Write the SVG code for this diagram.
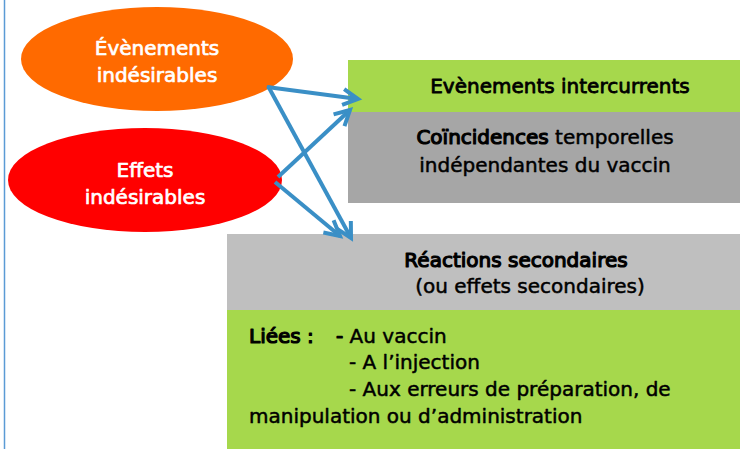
<svg xmlns="http://www.w3.org/2000/svg" width="740" height="449" viewBox="0 0 740 449">
<style>
text{font-family:"DejaVu Sans",sans-serif;font-size:20px;stroke-width:0.5;stroke-linejoin:round}
.w{fill:#ffffff;stroke:#ffffff;stroke-width:0.7}
.k{fill:#000000;stroke:#000000}
.b{stroke-width:1.2}
.c{text-anchor:middle}
.arr{fill:none;stroke:#3a8fc6;stroke-width:4;marker-end:url(#ah)}
</style>
<defs>
<marker id="ah" viewBox="0 0 20 20" refX="17" refY="10" markerWidth="20" markerHeight="20" markerUnits="userSpaceOnUse" orient="auto" overflow="visible">
<path d="M2,2 L17,10 L2,18" fill="none" stroke="#3a8fc6" stroke-width="4" stroke-linejoin="miter"/>
</marker>
</defs>
<rect x="0" y="0" width="740" height="449" fill="#ffffff"/>
<line x1="4.5" y1="0" x2="4.5" y2="449" stroke="#5b9bd5" stroke-width="1.5"/>
<g id="evenements-indesirables">
<ellipse cx="157" cy="59" rx="136" ry="52" fill="#ff6a00"/>
<text class="w c" x="157" y="55">Évènements</text>
<text class="w c" x="157" y="82">indésirables</text>
</g>
<g id="effets-indesirables">
<ellipse cx="145" cy="180" rx="137" ry="52" fill="#ff0000"/>
<text class="w c" x="145" y="177">Effets</text>
<text class="w c" x="145" y="204">indésirables</text>
</g>
<g id="evenements-intercurrents">
<rect x="348" y="60" width="392" height="52" fill="#a6d84c"/>
<text class="k c" x="560" y="93" style="stroke-width:0.8">Evènements intercurrents</text>
</g>
<g id="coincidences">
<rect x="348" y="112" width="392" height="91" fill="#a6a6a6"/>
<text class="k c" x="545" y="144"><tspan class="b">Coïncidences</tspan> temporelles</text>
<text class="k c" x="545" y="172">indépendantes du vaccin</text>
</g>
<g id="reactions-secondaires">
<rect x="227" y="234" width="513" height="76" fill="#bfbfbf"/>
<text class="k c b" x="516" y="267">Réactions secondaires</text>
<text class="k c" x="530" y="293">(ou effets secondaires)</text>
</g>
<g id="liees">
<rect x="227" y="310" width="513" height="139" fill="#a6d84c"/>
<text class="k" x="249" y="343"><tspan class="b">Liées :</tspan></text>
<text class="k" x="336" y="343"><tspan class="b">-</tspan> Au vaccin</text>
<text class="k" x="349" y="369">- A l’injection</text>
<text class="k" x="349" y="396">- Aux erreurs de préparation, de</text>
<text class="k" x="249" y="423">manipulation ou d’administration</text>
</g>
<g id="connectors">
<line class="arr" x1="267" y1="87" x2="358" y2="99"/>
<line class="arr" x1="268" y1="86" x2="351" y2="238"/>
<line class="arr" x1="278" y1="177" x2="350" y2="110"/>
<line class="arr" x1="275" y1="182" x2="340" y2="236"/>
</g>
</svg>
